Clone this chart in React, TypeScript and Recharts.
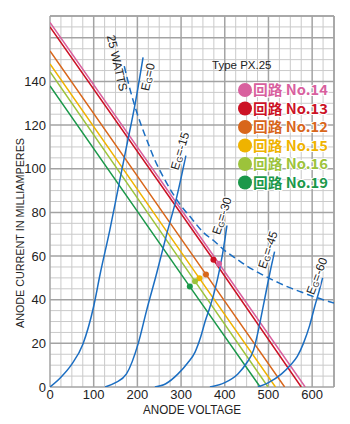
import React from 'react';
import { LineChart, Line, XAxis, YAxis, ReferenceLine } from 'recharts';

// load lines (回路), read at V=0, operating point, I=0
const circuitNames = ['回路 No.14', '回路 No.13', '回路 No.12', '回路 No.15', '回路 No.16', '回路 No.19'];
const circuitColors = ['#d8609e', '#cc1225', '#d8661b', '#efb300', '#9cc33b', '#1b984a'];
const loadStartMa = [167, 165, 154, 148, 144.5, 138];
const loadOpV = [387, 374, 357, 342, 332, 320];
const loadOpMa = [56.5, 58.3, 51.6, 49.8, 48.4, 46];
const loadEndV = [584, 575, 537, 516, 499, 481];

// anode curves per grid voltage
const eg0V = [0, 25, 50, 75, 100, 115, 137, 155, 175, 196, 213];
const eg0Ma = [0, 4.5, 10.5, 19.5, 37, 52, 72, 90, 110, 131, 151];
const eg15V = [126, 150, 175, 202, 221, 244, 267, 290, 311];
const eg15Ma = [0, 2, 6, 20, 35, 52, 70, 87, 106];
const eg30V = [240, 265, 293, 315, 332, 345, 355, 365, 374, 384, 395, 405];
const eg30Ma = [0, 1.5, 6, 11, 16, 23, 30, 36, 42, 50, 61, 74];
const eg45V = [366, 400, 430, 450, 466, 478, 490, 503, 514];
const eg45Ma = [0, 2, 6, 11, 17, 27, 39, 52, 62];
const eg60V = [476, 500, 530, 550, 566, 580, 594, 606, 616, 624];
const eg60Ma = [0, 2, 6, 10, 14, 20, 28, 37, 44, 50];

// 25 watts dissipation curve
const wattV = [170, 185, 200, 220, 240, 260, 280, 300, 325, 350, 375, 400, 425, 450, 475, 500, 525, 550, 575, 600, 625, 650];
const wattMa = [147, 135, 125, 114, 104, 96, 89, 83, 77, 71, 67, 62.5, 59, 55.5, 52.6, 50, 47.6, 45.4, 43.5, 41.7, 40, 38.5];

const xTicks = [0, 100, 200, 300, 400, 500, 600];
const yTicks = [0, 20, 40, 60, 80, 100, 120, 140];

const gridX = Array.from({ length: 27 }, (_, i) => i * 25);
const gridY = Array.from({ length: 35 }, (_, i) => i * 5);
const isMajorX = (v: number) => v % 100 === 0 || v === 650;
const isMajorY = (v: number) => v % 20 === 0 || v === 170;

const BLUE = '#1b6ec2';
const FONT = '"Liberation Sans", Arial, sans-serif';

const zip = (v: number[], ma: number[]) => v.map((x, i) => ({ v: x, i: ma[i] }));

const curves = [
  { name: '0', data: zip(eg0V, eg0Ma) },
  { name: '-15', data: zip(eg15V, eg15Ma) },
  { name: '-30', data: zip(eg30V, eg30Ma) },
  { name: '-45', data: zip(eg45V, eg45Ma) },
  { name: '-60', data: zip(eg60V, eg60Ma) },
];

const loadLines = circuitNames.map((n, k) => ({
  name: n,
  color: circuitColors[k],
  data: [
    { v: 0, i: loadStartMa[k] },
    { v: loadOpV[k], i: loadOpMa[k] },
    { v: loadEndV[k], i: 0 },
  ],
}));

// rotated curve labels (pixel placement)
const egLabels = [
  { t: '=0', x: 148, y: 77, a: -77 },
  { t: '=-15', x: 180, y: 151, a: -73 },
  { t: '=-30', x: 222, y: 216, a: -72 },
  { t: '=-45', x: 268, y: 250, a: -72 },
  { t: '=-60', x: 317, y: 276, a: -69 },
];

const legendY = [90, 108.5, 127, 145.5, 164, 182.5];

export default function App() {
  return (
    <div style={{ position: 'absolute', left: 0, top: 0, width: 350, height: 424, background: '#fff' }}>
      <LineChart width={350} height={424} margin={{ top: 16, right: 16, left: 0, bottom: 7 }}>
        <XAxis
          dataKey="v"
          type="number"
          domain={[0, 650]}
          ticks={xTicks}
          allowDataOverflow
          axisLine={false}
          tickLine={false}
          tickSize={2}
          tickMargin={1}
          height={30}
          tick={{ fontSize: 13, fill: '#222', fontFamily: FONT }}
        />
        <YAxis
          dataKey="i"
          type="number"
          domain={[0, 170]}
          ticks={yTicks}
          allowDataOverflow
          axisLine={false}
          tickLine={false}
          tickSize={2}
          tickMargin={2}
          width={50}
          tick={{ fontSize: 13, fill: '#222', fontFamily: FONT }}
        />
        {gridX.filter((v) => !isMajorX(v)).map((v) => (
          <ReferenceLine key={'mx' + v} x={v} stroke="#cacaca" strokeWidth={1} />
        ))}
        {gridY.filter((v) => !isMajorY(v)).map((v) => (
          <ReferenceLine key={'my' + v} y={v} stroke="#cacaca" strokeWidth={1} />
        ))}
        {gridX.filter(isMajorX).concat([650]).map((v) => (
          <ReferenceLine key={'Mx' + v} x={v} stroke="#a3a3a3" strokeWidth={1.5} />
        ))}
        {gridY.filter(isMajorY).concat([170]).map((v) => (
          <ReferenceLine key={'My' + v} y={v} stroke="#a3a3a3" strokeWidth={1.5} />
        ))}
        {loadLines.map((l) => (
          <Line
            key={l.name}
            data={l.data}
            dataKey="i"
            type="linear"
            stroke={l.color}
            strokeWidth={1.5}
            isAnimationActive={false}
            dot={(p: any) =>
              p.index === 1 ? (
                <circle key={l.name + 'd'} cx={p.cx} cy={p.cy} r={3} fill={l.color} />
              ) : (
                <g key={l.name + p.index} />
              )
            }
            activeDot={false}
          />
        ))}
        <Line
          data={zip(wattV, wattMa)}
          dataKey="i"
          type="monotone"
          stroke={BLUE}
          strokeWidth={1.5}
          strokeDasharray="7 4"
          dot={false}
          activeDot={false}
          isAnimationActive={false}
        />
        {curves.map((c) => (
          <Line
            key={c.name}
            data={c.data}
            dataKey="i"
            type="monotone"
            stroke={BLUE}
            strokeWidth={1.5}
            dot={false}
            activeDot={false}
            isAnimationActive={false}
          />
        ))}
      </LineChart>
      <svg width={350} height={424} style={{ position: 'absolute', left: 0, top: 0, pointerEvents: 'none' }}>
        <text
          x={20}
          y={233}
          transform="rotate(-90 20 233)"
          textAnchor="middle"
          dominantBaseline="central"
          fontSize={11}
          fontFamily={FONT}
          fill="#222"
          textLength={190}
          lengthAdjust="spacingAndGlyphs"
        >
          ANODE CURRENT IN MILLIAMPERES
        </text>
        <text x={192} y={413.5} textAnchor="middle" fontSize={12} fontFamily={FONT} fill="#222" textLength={98} lengthAdjust="spacingAndGlyphs">
          ANODE VOLTAGE
        </text>
        <text x={212} y={68.5} fontSize={11.5} fontFamily={FONT} fill="#222">
          Type PX.25
        </text>
        <text
          x={117}
          y={63}
          transform="rotate(77 117 63)"
          textAnchor="middle"
          dominantBaseline="central"
          fontSize={12}
          fontFamily={FONT}
          fill="#222"
        >
          25 WATTS
        </text>
        {egLabels.map((e) => (
          <text
            key={e.t}
            x={e.x}
            y={e.y}
            transform={`rotate(${e.a} ${e.x} ${e.y})`}
            textAnchor="middle"
            dominantBaseline="central"
            fontSize={12}
            fontFamily={FONT}
            fill="#222"
            stroke="#fff"
            strokeWidth={2.5}
            paintOrder="stroke"
          >
            E<tspan fontSize={8} dy={2}>G</tspan>
            <tspan dy={-2}>{e.t}</tspan>
          </text>
        ))}
        {circuitNames.map((n, k) => (
          <g key={n}>
            <circle cx={245} cy={legendY[k]} r={7} fill={circuitColors[k]} />
            <text
              x={253}
              y={legendY[k] + 5}
              fontSize={14}
              fontWeight="bold"
              fontFamily='"Noto Sans CJK JP", sans-serif'
              fill={circuitColors[k]}
              stroke="#fff"
              strokeWidth={2}
              paintOrder="stroke"
              textLength={75}
              lengthAdjust="spacingAndGlyphs"
            >
              {n}
            </text>
          </g>
        ))}
      </svg>
    </div>
  );
}
